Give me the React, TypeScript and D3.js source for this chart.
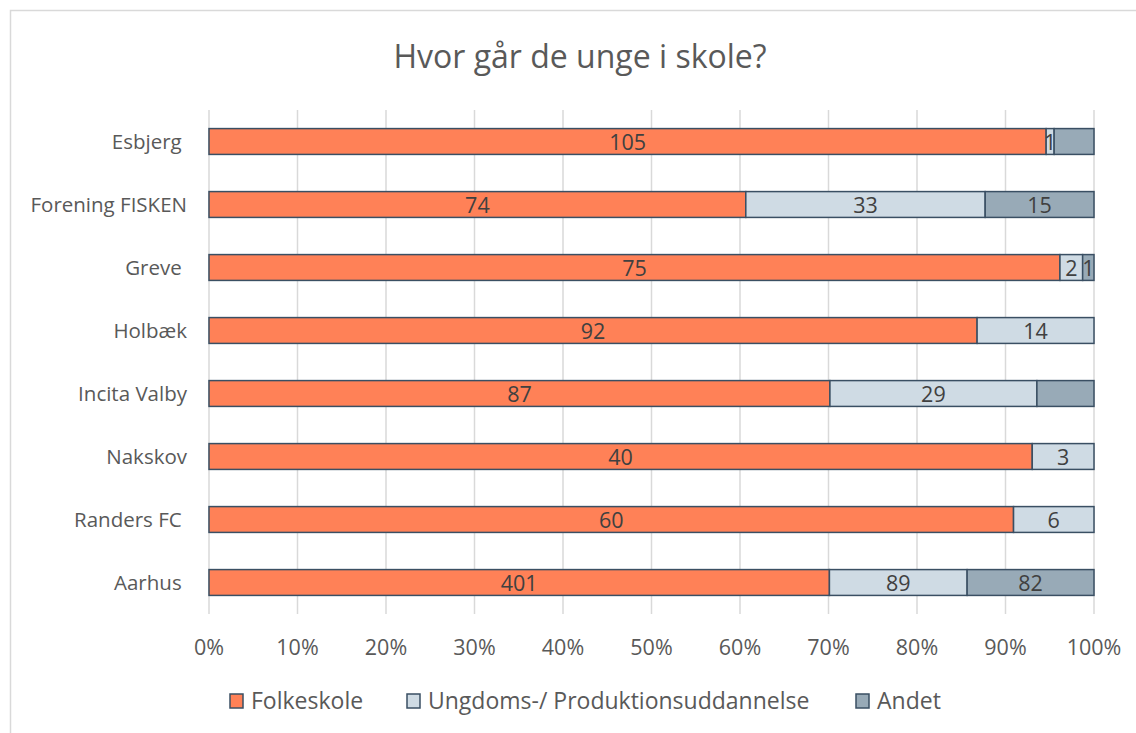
import React, { useEffect, useRef } from "react";
import * as d3 from "d3";

const categories = [
  "Esbjerg ",
  "Forening FISKEN",
  "Greve ",
  "Holbæk",
  "Incita Valby",
  "Nakskov",
  "Randers FC ",
  "Aarhus ",
];
const seriesNames = ["Folkeskole", "Ungdoms-/ Produktionsuddannelse", "Andet"];
const folkeskole = [105, 74, 75, 92, 87, 40, 60, 401];
const ungdoms = [1, 33, 2, 14, 29, 3, 6, 89];
const andet = [5, 15, 1, 0, 8, 0, 0, 82];
// labels that are not shown in the original chart (category index, series index)
const hiddenLabels = [
  [0, 2],
  [4, 2],
];
const xTicks = [0, 0.1, 0.2, 0.3, 0.4, 0.5, 0.6, 0.7, 0.8, 0.9, 1];

const colors = ["#FF8157", "#CFDBE4", "#98AAB7"];
const stroke = "#3A4F63";
const font = "'Open Sans', sans-serif";

const App = () => {
  const ref = useRef<SVGSVGElement>(null);

  useEffect(() => {
    const svg = d3.select(ref.current);
    svg.selectAll("*").remove();
    const width = 1136;
    const height = 733;

    // chart frame
    svg
      .append("rect")
      .attr("x", 10.5)
      .attr("y", 10.5)
      .attr("width", width)
      .attr("height", height)
      .attr("fill", "#fff")
      .attr("stroke", "#D9D9D9")
      .attr("stroke-width", 1.5);

    const x = d3.scaleLinear().domain([0, 1]).range([209, 1094]);
    const y = d3.scaleBand().domain(categories).range([110, 614]).paddingInner(0.59).paddingOuter(0.295);

    // gridlines
    svg
      .append("g")
      .selectAll("line")
      .data(xTicks)
      .enter()
      .append("line")
      .attr("x1", (d) => x(d))
      .attr("x2", (d) => x(d))
      .attr("y1", 110)
      .attr("y2", 614)
      .attr("stroke", "#D9D9D9")
      .attr("stroke-width", 1.5);

    // tick labels
    svg
      .append("g")
      .selectAll("text")
      .data(xTicks)
      .enter()
      .append("text")
      .attr("x", (d) => x(d))
      .attr("y", 655)
      .attr("text-anchor", "middle")
      .style("font-family", font)
      .style("font-size", "21.5px")
      .style("fill", "#595959")
      .text((d) => d3.format(".0%")(d));

    const series = [folkeskole, ungdoms, andet];
    const rows = categories.map((c, i) => {
      const total = folkeskole[i] + ungdoms[i] + andet[i];
      let acc = 0;
      return series.map((s, j) => {
        const start = acc / total;
        acc += s[i];
        return { cat: c, i, j, value: s[i], x0: start, x1: acc / total };
      });
    });
    const segs = rows.flat().filter((d) => d.value > 0);

    // bars
    svg
      .append("g")
      .selectAll("rect")
      .data(segs)
      .enter()
      .append("rect")
      .attr("x", (d) => x(d.x0))
      .attr("y", (d) => y(d.cat)!)
      .attr("width", (d) => x(d.x1) - x(d.x0))
      .attr("height", y.bandwidth())
      .attr("fill", (d) => colors[d.j])
      .attr("stroke", stroke)
      .attr("stroke-width", 1.5);

    // data labels
    const isHidden = (d: any) => hiddenLabels.some((h) => h[0] === d.i && h[1] === d.j);
    svg
      .append("g")
      .selectAll("text")
      .data(segs.filter((d) => !isHidden(d)))
      .enter()
      .append("text")
      .attr("x", (d) => (x(d.x0) + x(d.x1)) / 2)
      .attr("y", (d) => y(d.cat)! + y.bandwidth() / 2 + 8)
      .attr("text-anchor", "middle")
      .style("font-family", font)
      .style("font-size", "21.5px")
      .style("fill", "#404040")
      .text((d) => d.value);

    // category labels
    svg
      .append("g")
      .selectAll("text")
      .data(categories)
      .enter()
      .append("text")
      .attr("x", 187)
      .attr("y", (d) => y(d)! + y.bandwidth() / 2 + 7.5)
      .attr("text-anchor", "end")
      .style("white-space", "pre")
      .style("font-family", font)
      .style("font-size", "20.5px")
      .style("fill", "#595959")
      .text((d) => d);

    // title
    svg
      .append("text")
      .attr("x", 580)
      .attr("y", 68)
      .attr("text-anchor", "middle")
      .style("font-family", font)
      .style("font-size", "32px")
      .style("fill", "#595959")
      .text("Hvor går de unge i skole?");

    // legend
    const legendX = [230, 407, 856];
    const lg = svg
      .append("g")
      .selectAll("g")
      .data(seriesNames)
      .enter()
      .append("g")
      .attr("transform", (d, i) => `translate(${legendX[i]}, 701)`);
    lg.append("rect")
      .attr("x", 0)
      .attr("y", -7)
      .attr("width", 13)
      .attr("height", 14)
      .attr("fill", (d, i) => colors[i])
      .attr("stroke", stroke)
      .attr("stroke-width", 1.5);
    lg.append("text")
      .attr("x", 21)
      .attr("y", 8)
      .style("font-family", font)
      .style("font-size", "23px")
      .style("fill", "#595959")
      .text((d) => d);
  }, []);

  return (
    <svg
      ref={ref}
      width={1136}
      height={733}
      style={{ position: "absolute", left: 0, top: 0 }}
    ></svg>
  );
};

export default App;
